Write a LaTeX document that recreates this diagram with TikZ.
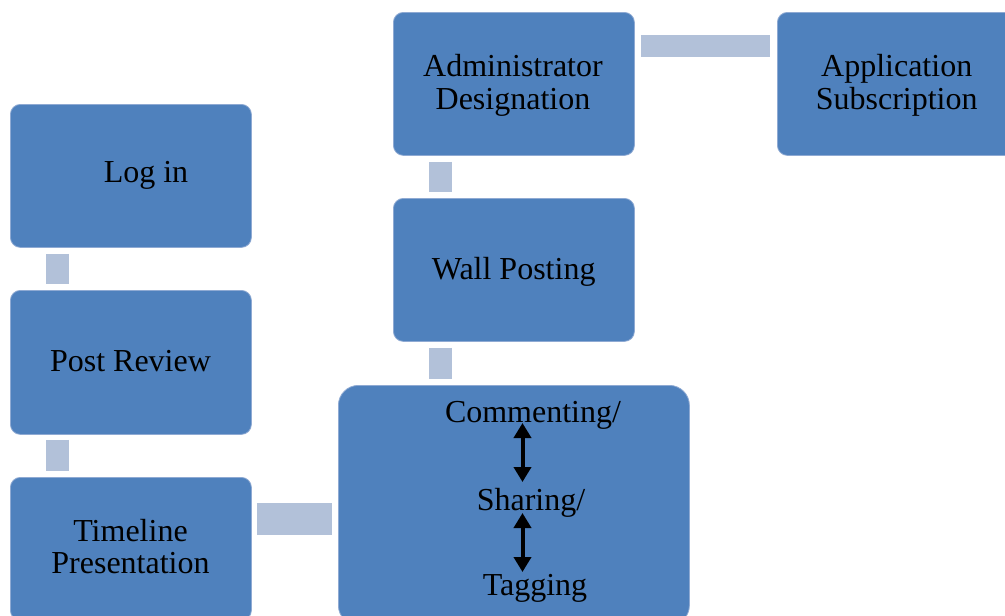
\documentclass[tikz,border=0pt]{standalone}
\usepackage{fontspec}
\setmainfont{Liberation Serif}
\usetikzlibrary{calc,arrows.meta}
\definecolor{boxblue}{HTML}{4F81BD}
\definecolor{boxedge}{HTML}{8FAAD3}
\definecolor{barblue}{HTML}{B2C1D9}
\tikzset{
  box/.style={draw=boxedge, line width=0.8pt, fill=boxblue, rounded corners=10pt,
    minimum width=241pt, minimum height=143pt, inner sep=0pt, anchor=north west},
  txt/.style={inner sep=0pt, anchor=base, align=center, text=black,
    font=\fontsize{32}{32.5}\selectfont},
  vbar/.style={draw=barblue, line width=23pt},
  hbar/.style={draw=barblue, line width=22pt},
  dbl/.style={line width=4pt, {Triangle[width=17pt,length=15pt]}-{Triangle[width=17pt,length=15pt]}}
}
\begin{document}
\begin{tikzpicture}[x=1pt,y=-1pt]
\useasboundingbox (0,0) rectangle (1005,616);
\clip (0,0) rectangle (1005,616);
\fill[white] (0,0) rectangle (1005,616);
% boxes
\node[box] (login) at (10,104) {};
\node[box, minimum height=144pt] (postrev) at (10,290) {};
\node[box] (timeline) at (10,477) {};
\node[box, minimum width=351pt, minimum height=240pt, rounded corners=20pt] (comment) at (338,385) {};
\node[box] (wall) at (393,198) {};
\node[box] (admin) at (393,12) {};
\node[box] (app) at (777,12) {};
% connectors
\draw[vbar] ($(login.south west)+(47.5,6)$) -- ($(postrev.north west)+(47.5,-6)$);
\draw[vbar] ($(postrev.south west)+(47.5,5)$) -- ($(timeline.north west)+(47.5,-6)$);
\draw[vbar] ($(admin.south west)+(47.5,6)$) -- ($(wall.north west)+(47.5,-6)$);
\draw[vbar] ($(wall.south west)+(47.5,6)$) -- ($(comment.north west)+(102.5,-6)$);
\draw[hbar] ($(admin.north east)+(6,34)$) -- ($(app.north west)+(-7,34)$);
\draw[draw=barblue, line width=32pt] ($(timeline.north east)+(5,42)$) -- ($(comment.north west)+(-6,134)$);
% texts
\node[txt] (logintxt) at (146,182.3) {Log in};
\node[txt] (postrevtxt) at (130.5,371) {Post Review};
\node[txt] (timelinetxt) at (130.5,573.5) {Timeline\\Presentation};
\node[txt] (admintxt) at (513,109.3) {Administrator\\Designation};
\node[txt] (apptxt) at (896.7,109.3) {Application\\Subscription};
\node[txt] (walltxt) at (513.7,279.3) {Wall Posting};
\node[txt] (commenting) at (533,422) {Commenting/};
\node[txt] (sharing) at (531,510) {Sharing/};
\node[txt] (tagging) at (535,595) {Tagging};
% arrows
\draw[dbl] ($(commenting.base)+(-10.5,1)$) -- ($(sharing.base)+(-8.5,-28)$);
\draw[dbl] ($(sharing.base)+(-8.5,3)$) -- ($(tagging.base)+(-12.5,-23)$);
\end{tikzpicture}
\end{document}
